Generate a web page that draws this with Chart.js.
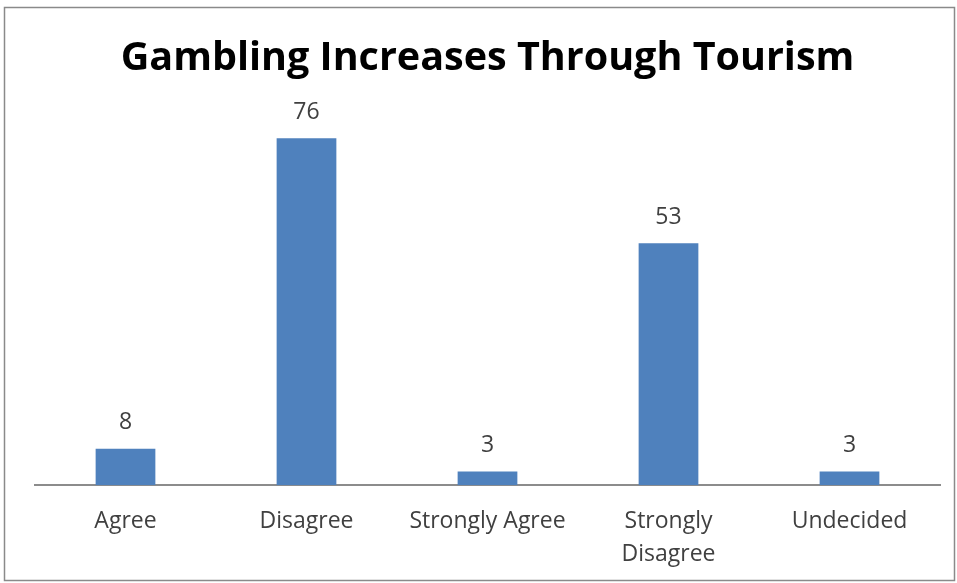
<!DOCTYPE html>
<html>
<head>
<meta charset="utf-8">
<script src="https://cdn.jsdelivr.net/npm/chart.js@4"></script>
<style>
  html, body { margin: 0; background: #fff; }
</style>
</head>
<body>
<canvas id="chart" width="957" height="583"></canvas>
<script>
const chartTitle = 'Gambling Increases Through Tourism';
const categories = ['Agree', 'Disagree', 'Strongly Agree', 'Strongly Disagree', 'Undecided'];
const tickLabels = ['Agree', 'Disagree', 'Strongly Agree', ['Strongly', 'Disagree'], 'Undecided'];
const values = [8, 76, 3, 53, 3];

const FONT = "'Open Sans', 'Noto Sans', sans-serif";

// white background + grey frame round the whole chart
const frame = {
  id: 'frame',
  beforeDraw(chart) {
    const ctx = chart.ctx;
    ctx.save();
    ctx.fillStyle = '#fff';
    ctx.fillRect(0, 0, chart.width, chart.height);
    ctx.strokeStyle = '#8a8a8a';
    ctx.lineWidth = 1.5;
    ctx.strokeRect(4.5, 7.5, 950, 573);
    ctx.restore();
  }
};

// value above each bar
const valueLabels = {
  id: 'valueLabels',
  afterDatasetsDraw(chart) {
    const ctx = chart.ctx;
    const meta = chart.getDatasetMeta(0);
    ctx.save();
    ctx.font = `23px ${FONT}`;
    ctx.fillStyle = '#404040';
    ctx.textAlign = 'center';
    ctx.textBaseline = 'middle';
    meta.data.forEach((bar, i) => {
      ctx.fillText(String(values[i]), bar.x, bar.y - 26);
    });
    ctx.restore();
  }
};

new Chart(document.getElementById('chart'), {
  type: 'bar',
  data: {
    labels: tickLabels,
    datasets: [{
      label: 'Responses',
      data: values,
      backgroundColor: '#4f81bd',
      borderWidth: 0,
      barPercentage: 0.33,
      categoryPercentage: 1,
    }],
  },
  options: {
    responsive: false,
    animation: false,
    layout: { padding: { top: 10, left: 35, right: 17, bottom: -7 } },
    plugins: {
      legend: { display: false },
      tooltip: { enabled: false },
      title: {
        display: true,
        text: chartTitle,
        color: '#000',
        font: { family: FONT, size: 39.5, weight: 'bold' },
        padding: { top: 25, bottom: 37.6 },
      },
    },
    scales: {
      x: {
        grid: { display: false, drawTicks: false },
        border: { display: true, color: '#8c8c8c', width: 2 },
        ticks: {
          color: '#404040',
          font: { family: FONT, size: 23, lineHeight: 1.45 },
          padding: 19,
          maxRotation: 0,
          autoSkip: false,
        },
      },
      y: {
        display: false,
        min: 0,
        max: 80,
      },
    },
  },
  plugins: [frame, valueLabels],
});
</script>
</body>
</html>
